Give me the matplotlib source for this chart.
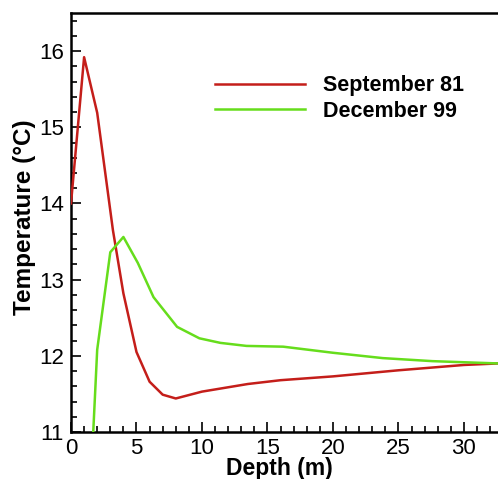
import matplotlib
matplotlib.use("Agg")
import matplotlib.pyplot as plt
from matplotlib.ticker import MultipleLocator

plt.rcParams['font.family'] = ['Liberation Sans', 'DejaVu Sans']

# Temperature profiles (depth in m, temperature in °C)
sep81_depth = [0.0, 1.0, 2.0, 3.2, 4.0, 5.0, 6.0, 7.0, 8.0, 10.0, 13.5, 16.0, 20.0, 25.0, 30.0, 32.6]
sep81_temp = [14.0, 15.92, 15.19, 13.65, 12.82, 12.05, 11.66, 11.49, 11.44, 11.53, 11.63, 11.68, 11.73, 11.81, 11.88, 11.90]

dec99_depth = [1.0, 2.0, 3.0, 4.0, 5.1, 6.3, 8.1, 9.8, 11.4, 13.4, 16.2, 20.0, 23.8, 27.6, 32.6]
dec99_temp = [8.5, 12.08, 13.36, 13.56, 13.22, 12.77, 12.38, 12.23, 12.17, 12.13, 12.12, 12.04, 11.97, 11.93, 11.90]

series_labels = ["September 81", "December 99"]
series_colors = ["#c41e1a", "#66dd1c"]

fig = plt.figure(figsize=(4.98, 4.79), dpi=100)
ax = fig.add_axes([71 / 498, 47 / 479, 1 - 71 / 498, (432 - 13) / 479])

ax.plot(sep81_depth, sep81_temp, color=series_colors[0], lw=1.8, zorder=3,
        label=series_labels[0])
ax.plot(dec99_depth, dec99_temp, color=series_colors[1], lw=1.8, zorder=3,
        label=series_labels[1])

ax.set_xlim(0, 32.6)
ax.set_ylim(11, 16.5)
ax.xaxis.set_major_locator(MultipleLocator(5))
ax.xaxis.set_minor_locator(MultipleLocator(1))
ax.yaxis.set_major_locator(MultipleLocator(1))
ax.yaxis.set_minor_locator(MultipleLocator(0.2))
ax.tick_params(which='both', direction='in', width=1.2, labelsize=16,
               top=False, right=False)
ax.tick_params(axis='x', pad=4)
ax.tick_params(axis='y', pad=5)
ax.tick_params(which='major', length=7)
ax.tick_params(which='minor', length=4)
for side in ['left', 'bottom', 'top']:
    ax.spines[side].set_linewidth(1.8)
ax.spines['right'].set_visible(False)

ax.set_xlabel("Depth (m)", fontsize=16.5, fontweight='bold')
ax.set_ylabel("Temperature (°C)", fontsize=17.5, fontweight='bold')
ax.xaxis.set_label_coords(0.489, -0.06)
ax.yaxis.set_label_coords(-0.082, 0.513)

leg = ax.legend(loc='upper left', bbox_to_anchor=(0.337, 0.851), frameon=False,
                prop={'size': 15.5, 'weight': 'bold'}, handlelength=4.2,
                handletextpad=0.8, labelspacing=0.2, borderpad=0, borderaxespad=0)

fig.savefig("out.png", dpi=100)
